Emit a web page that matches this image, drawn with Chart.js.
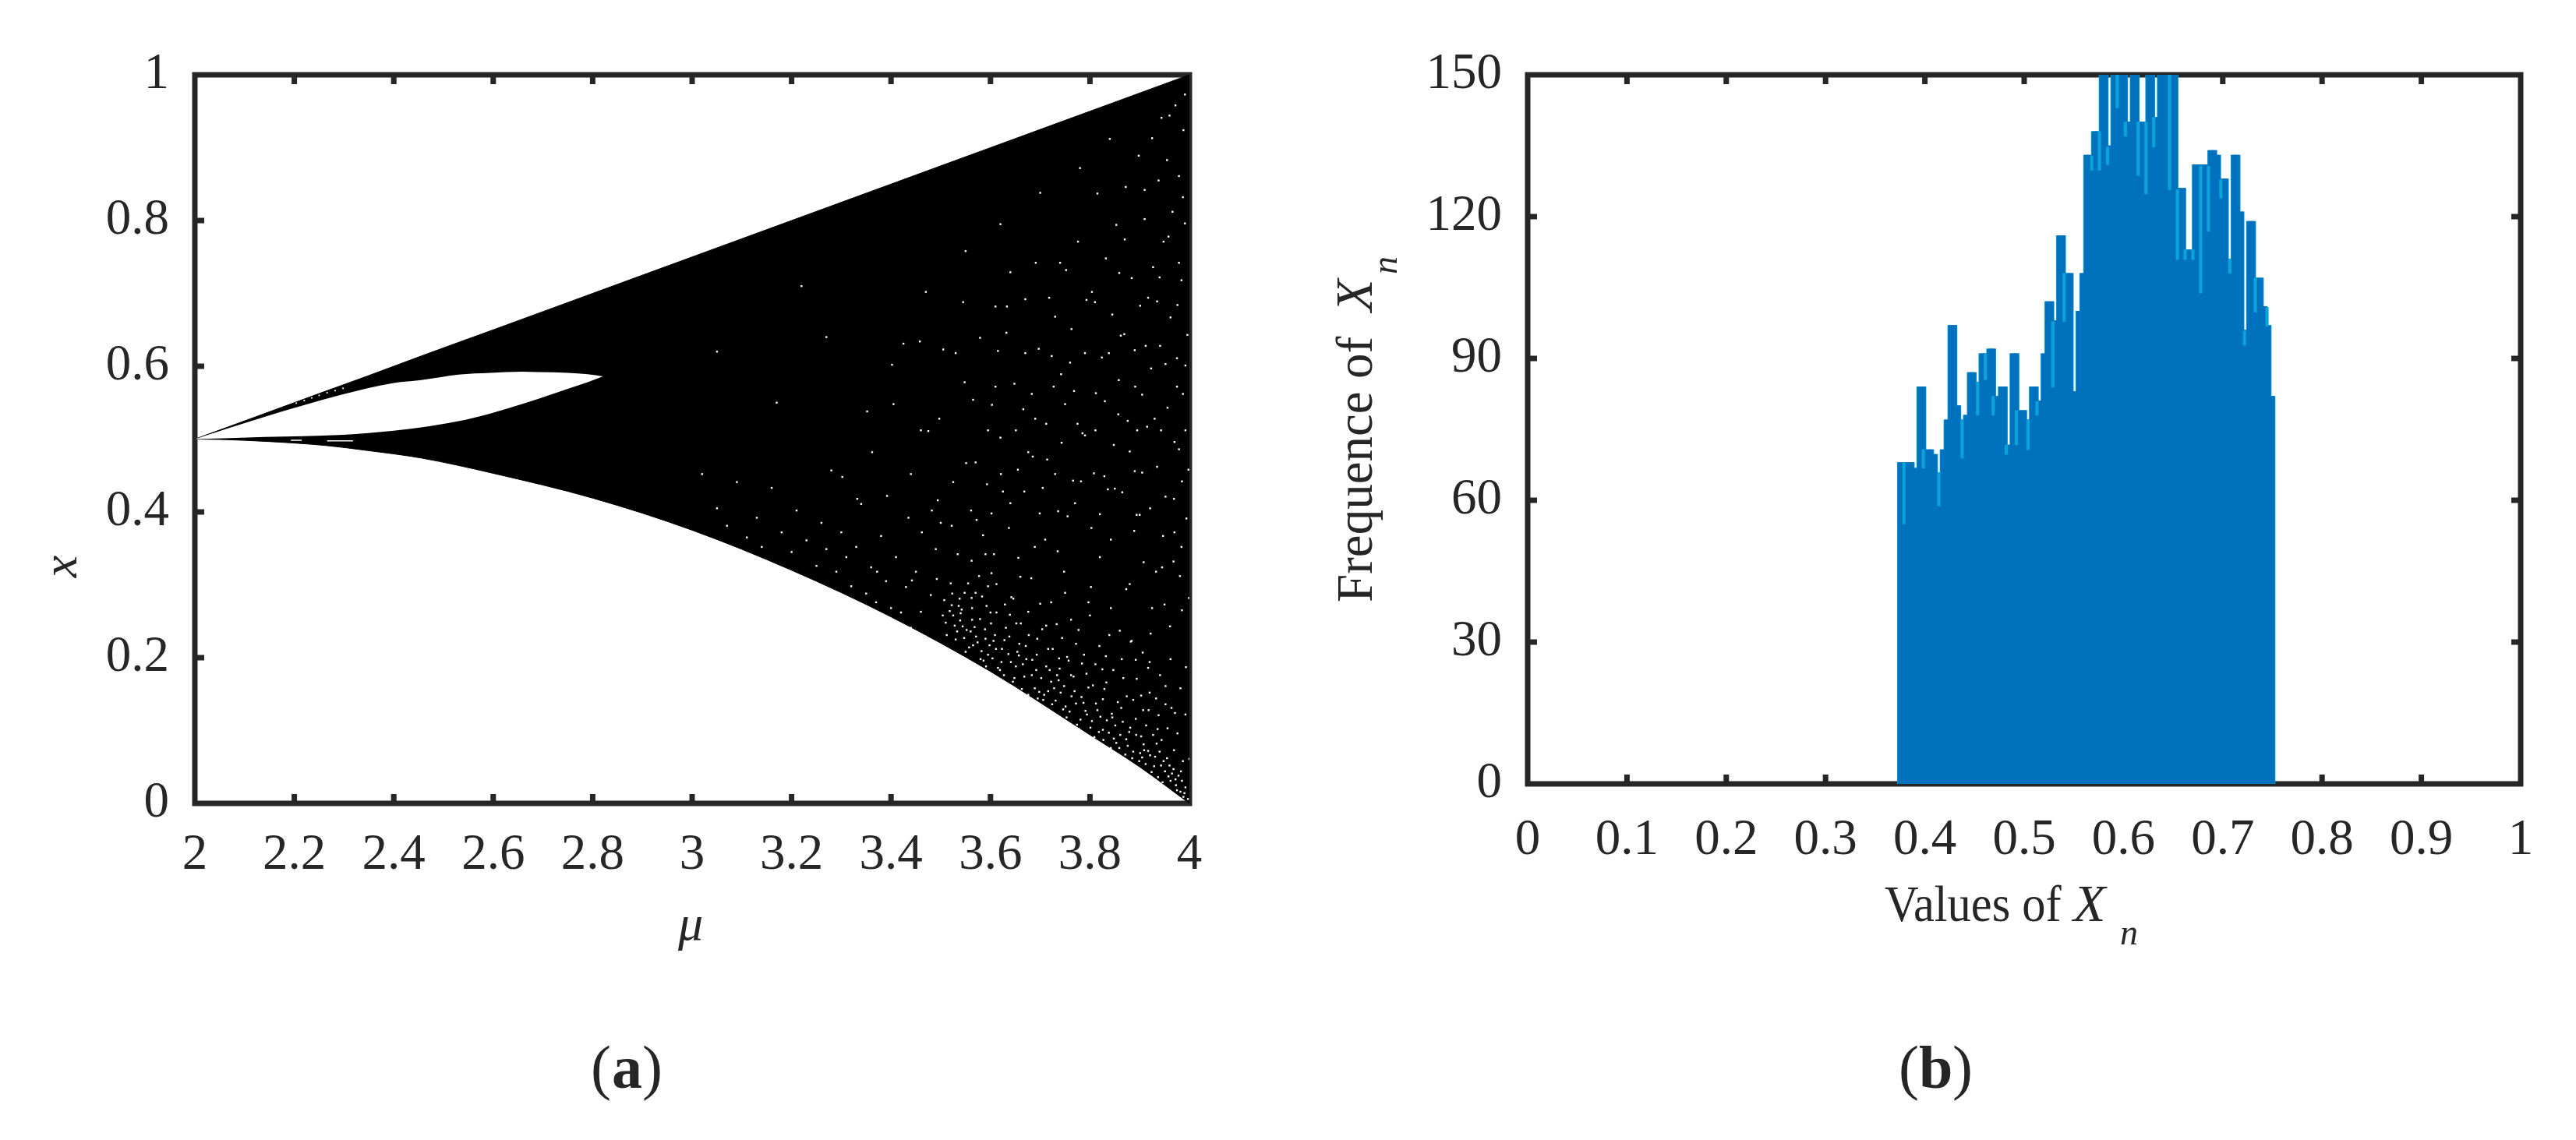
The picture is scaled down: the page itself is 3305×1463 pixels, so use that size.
<!DOCTYPE html>
<html><head><meta charset="utf-8">
<script src="https://cdn.jsdelivr.net/npm/chart.js@4"></script>
<style>
html,body{margin:0;padding:0;background:#fff;width:3305px;height:1463px;overflow:hidden}
canvas{position:absolute;top:0}
#a{left:0}#b{left:1650px}
</style></head><body>
<canvas id="a" width="1650" height="1463"></canvas>
<canvas id="b" width="1655" height="1463"></canvas>
<script>
// ---------- panel (a): bifurcation diagram, outline
const muTicks = [2,2.2,2.4,2.6,2.8,3,3.2,3.4,3.6,3.8,4];
const xTicks = [0,0.2,0.4,0.6,0.8,1];
const muGrid = [2,2.05,2.15,2.266,2.345,2.455,2.6,2.8,3,3.2,3.4,3.6,3.8,3.9,4];
const upperEdge = [0.5,0.5125,0.5375,0.5665,0.586,0.614,0.65,0.7,0.75,0.8,0.85,0.9,0.95,0.975,1];
const lowerEdge = [0.5,0.4995,0.4966,0.491,0.4845,0.474,0.453,0.419,0.375,0.32,0.256,0.181,0.094,0.05,0];
const lensMu = [2,2.14,2.298,2.4,2.455,2.53,2.594,2.658,2.69,2.75,2.79,2.821];
const lensTop = [0.5,0.5305,0.5615,0.577,0.581,0.5886,0.591,0.5925,0.592,0.591,0.589,0.586];
const lensBottom = [0.5,0.503,0.506,0.5116,0.516,0.5245,0.535,0.548,0.555,0.569,0.578,0.586];
const sliverMu = [2.193,2.215,2.24,2.266,2.318];
const sliverX = [0.4985,0.4985,null,0.4975,0.4975];
const bandDots = [[2.204,0.5494],[2.22,0.553],[2.235,0.5565],[2.25,0.56],[2.266,0.5636],[2.282,0.5665],[2.298,0.5697]];
// white specks in the black area: [mu-3 in thousandths, x in thousandths]
const specklesA = [
[20,452],[50,405],[70,381],[90,441],[110,365],[130,392],[140,352],[160,433],[180,372],[200,345],[210,402],[230,361],[250,326],[260,385],[270,349],[280,457],[290,318],[300,372],[310,338],[50,620],
[170,550],[220,710],[270,640],[320,298],[330,352],[340,411],[350,288],[360,324],[370,276],[380,367],[390,305],[400,268],[410,338],[425,631],[458,634],[497,528],[632,646],[970,496],[890,456],[538,281],
[803,378],[420,262],[430,297],[440,241],[450,318],[460,263],[470,229],[480,286],[490,349],[500,217],[510,248],[520,302],[530,225],[540,261],[550,208],[560,236],[570,289],[580,198],[590,226],[600,262],
[440,452],[470,702],[500,385],[530,618],[550,758],[570,468],[590,342],[610,572],[620,795],[640,412],[660,311],[670,692],[690,528],[700,838],[710,362],[730,452],[740,742],[750,289],[760,605],[770,412],
[780,872],[790,505],[800,258],[810,688],[820,338],[830,552],[840,912],[850,432],[860,237],[870,774],[880,301],[890,622],[900,396],[910,842],[920,194],[930,528],[940,722],[950,273],[960,944],[970,372]];
const specklesB = [
[512,231],[648,172],[731,141],[873,88],[557,214],[905,63],[689,158],[794,122],[962,31],[604,199],[838,97],[751,133],[528,244],[917,72],[665,191],[982,16],[774,108],[591,188],[859,76],[708,149],
[943,52],[636,205],[821,119],[547,227],[893,94],[978,38],[722,167],[801,104],[619,183],[951,44],[683,176],[866,112],[568,242],[759,126],[931,64],[642,161],[812,137],[504,258],[887,71],[973,25],
[695,144],[848,89],[582,209],[739,185],[924,43],[657,203],[781,115],[539,251],[908,81],[988,9],[627,176],[844,123],[716,154],[968,47],[574,221],[899,58],[763,147],[937,36],[651,188],[809,91],
[533,236],[881,104],[702,172],[955,62],[598,217],[826,101],[746,129],[992,22],[676,149],[912,54],[563,252],[787,138],[641,194],[871,67],[728,158],[946,29],[609,231],[834,114],[518,264],[903,92],
[692,183],[965,41],[778,102],[586,196],[853,83],[737,169],[921,66],[663,157],[985,31],[815,128],[552,238],[896,49],[706,142],[940,71],[623,212],[842,76],[769,154],[975,18],[645,167],[879,98],
[507,279],[929,51],[684,197],[804,113],[571,229],[958,37],[724,136],[861,94],[615,186],[909,73],[748,161],[990,14],[658,219],[827,87],[542,266],[885,62],[698,153],[948,58],[595,204],[791,127],
[734,176],[972,33],[631,241],[851,107],[523,288],[915,39],[668,174],[783,146],[579,253],[934,82],[711,128],[868,56],[606,223],[997,6],[753,118],[826,143],[654,208],[901,69],[536,271],[960,52],
[687,131],[818,98],[563,268],[927,94],[741,152],[876,79],[622,194],[983,44],[772,137],[845,118],[601,247],[913,107],[671,216],[944,87],[719,183],[892,116],[548,289],[856,139],[797,159],[969,73],
[638,229],[907,128],[757,196],[987,58],[694,226],[833,166],[583,284],[938,121],[725,212],[874,147],[612,262],[956,103],[767,174],[920,152],[661,247],[811,191],[555,302],[894,171],[704,239],[976,96],
[788,204],[847,183],[629,273],[933,144],[744,227],[864,198],[676,263],[1000,61],[819,216],[917,186],[595,298],[952,136],[733,246],[884,223],[646,281],[971,124],[777,238],[906,207],[700,274],[839,231]];
const specklesC = [
[612,301],[925,268],[748,318],[993,187],[656,337],[873,294],[534,342],[961,243],[797,276],[689,352],[908,331],[572,389],[842,362],[736,401],[981,312],[625,428],[894,396],[766,443],[947,367],[676,482],
[829,449],[551,467],[969,418],[712,521],[880,483],[603,547],[935,462],[785,508],[994,391],[648,576],[857,534],[742,589],[915,517],[494,416],[812,563],[979,486],[697,624],[891,572],[579,639],[956,543],
[763,651],[838,618],[633,682],[923,597],[987,562],[718,694],[869,644],[941,628],[804,702],[666,541],[975,611],[548,578],[901,683],[752,732],[832,748],[962,667],[615,621],[884,721],[996,643],[691,742],
[927,736],[776,771],[853,794],[948,771],[984,718],[723,614],[910,802],[815,837],[966,812],[872,846],[938,855],[991,796],[898,889],[955,883],[979,861],[925,913],[988,924],[944,941],[972,958],[991,973],
[460,512],[525,441],[585,368],[620,502],[655,458],[705,433],[735,346],[775,521],[820,397],[865,427],[905,454],[945,324],[985,442],[565,554],[610,682],[670,618],[730,668],[790,618],[845,671],[895,512],
[935,689],[975,572],[405,548],[435,392],[475,511],[505,623],[545,688],[595,512],[640,729],[685,476],[750,548],[808,453],[858,581],[912,628],[952,421],[992,512],[392,422],[362,482],[332,418],[302,448],
[402,602],[352,538],[462,372],[492,308],[522,381],[562,333],[602,398],[642,283],[682,309],[722,276],[762,252],[802,297],[842,268],[882,222],[922,233],[962,198],[372,318],[442,306],[482,402],[522,272],
[562,282],[602,316],[652,247],[712,244],[772,219],[832,202],[892,197],[952,161],[992,122],[985,265],[941,176],[903,148],[867,172],[825,184],[793,178],[754,201],[716,212],[677,231],[639,259],[592,271],
[984,352],[998,458],[976,684],[992,601],[958,778],[987,832],[943,512],[968,332],[999,282],[979,742],[952,603],[921,405],[933,318],[905,561],[917,694],[889,374],[862,642],[876,525],[848,492],[859,728],
[824,612],[836,431],[811,512],[793,691],[782,442],[768,566],[755,394],[743,495],[727,572],[714,472],[699,398],[683,562],[668,428],[651,512],[637,378],[621,452],[607,342],[593,438],[577,312],[561,402],
[982,158],[964,131],[936,102],[918,128],[887,142],[863,131],[829,157],[806,162],[784,192],[762,176],[738,199],[712,188],[693,204],[672,198],[628,224],[611,212],[589,239],[565,217],[544,243],[525,258]];
const speckles = specklesA.concat(specklesB, specklesC).map(p=>({x:3+p[0]/1000,y:p[1]/1000}));
// ---------- panel (b): histogram counts, one per bin, first bin index = 95
const histFirstBin = 95;
const histCounts = [68,68,68,68,66.8,84,84,70.7,70.7,69.7,65.8,70.7,77,97,97,80,77,78,87,87,85,91,91,92,92,82,84,84,71.7,91,91,79,79,77,84,84,81,91,102,102,98,116,116,108,108,83,100,108,133,133,138,138,150,150,135,150,150,150,150,140,150,150,140,140,150,150,141,150,150,150,150,150,126,126,113,113,131,131,131,131,134,134,133,128,128,111,133,133,121,96,119,119,107,107,101,97,82];
const stripBin = [97,102,106,112,116,118,120,123.4,126,129,131.3,135.4,138.3,145.4,147.4,149.5,152,154.1,157.4,159.4,161.4,165.5,167.5,169.5,171.5,173.5,175.5,178.7,181,184.8,187.6,190.6];
const stripTop = [68,70.7,65.8,77,85,91,82,71.7,79,77,80.9,97.8,108,132.8,138,134.7,150,140,140,140,141,150,125.7,113,113,130.7,130.7,127.8,111,95.8,107,100.8];
const stripBottom = [55,66.8,58.8,68.9,78,85.5,78,69.7,71.7,70.7,78,83.9,97.8,129.8,129.8,131,143,137,128.7,124.8,134.7,125.7,110.9,110.9,110.9,103.8,116.9,123.9,108,92.8,99.8,96.8];
const histXTicks = [0,0.1,0.2,0.3,0.4,0.5,0.6,0.7,0.8,0.9,1];
const histYTicks = [0,30,60,90,120,150];

const SERIF = '"Liberation Serif","Times New Roman",serif';
const INK = '#262626';
const zip = (xs, ys) => xs.map((x,i)=>({x, y: ys[i]}));

const frame = {
  id:'frame',
  beforeDatasetsDraw(c){
    const {ctx, chartArea:a, scales:{x,y}} = c;
    ctx.save();
    ctx.strokeStyle = INK; ctx.lineWidth = 7;
    ctx.strokeRect(a.left, a.top, a.right-a.left, a.bottom-a.top);
    ctx.beginPath();
    const L = 12;
    x.ticks.forEach(t=>{
      const p = x.getPixelForValue(t.value);
      if (p<=a.left+1||p>=a.right-1) return;
      ctx.moveTo(p,a.top); ctx.lineTo(p,a.top+L);
      ctx.moveTo(p,a.bottom); ctx.lineTo(p,a.bottom-L);
    });
    y.ticks.forEach(t=>{
      const p = y.getPixelForValue(t.value);
      if (p<=a.top+1||p>=a.bottom-1) return;
      ctx.moveTo(a.left,p); ctx.lineTo(a.left+L,p);
      ctx.moveTo(a.right,p); ctx.lineTo(a.right-L,p);
    });
    ctx.stroke();
    ctx.restore();
  }
};
function labels(c, items){
  const ctx=c.ctx;
  ctx.save();
  ctx.textBaseline='alphabetic'; ctx.textAlign='left';
  items.forEach(it=>{
    ctx.save();
    ctx.translate(it.x,it.y);
    if(it.rot) ctx.rotate(-Math.PI/2);
    if(it.sx) ctx.scale(it.sx,1);
    ctx.font=it.font; ctx.fillStyle=it.color||INK;
    if(it.center) ctx.textAlign='center';
    ctx.fillText(it.t,0,0);
    ctx.restore();
  });
  ctx.restore();
}
function axes(xMin,xMax,xT,yMin,yMax,yT,yW,xPad){
  return {
    x:{type:'linear',offset:false,min:xMin,max:xMax,grid:{display:false,drawTicks:false,offset:false},border:{display:false},
       afterBuildTicks(s){s.ticks=xT.map(v=>({value:v}))},
       afterFit(s){s.height=100},
       ticks:{autoSkip:false,maxRotation:0,padding:xPad,color:INK,font:{family:SERIF,size:65},callback:v=>String(v)}},
    y:{type:'linear',min:yMin,max:yMax,grid:{display:false,drawTicks:false},border:{display:false},
       afterBuildTicks(s){s.ticks=yT.map(v=>({value:v}))},
       afterFit(s){s.width=yW},
       ticks:{autoSkip:false,padding:33,color:INK,font:{family:SERIF,size:65},callback:v=>String(v)}}
  };
}
const base = {responsive:false,animation:false,devicePixelRatio:1,
  plugins:{legend:{display:false},tooltip:{enabled:false}}};
const SMOOTH = 'monotone';

new Chart(document.getElementById('a'),{
  type:'line',
  data:{datasets:[
    {data:zip(muGrid,upperEdge),fill:'+1',backgroundColor:'#000',borderColor:'#000',borderWidth:1,pointRadius:0,order:9,cubicInterpolationMode:SMOOTH},
    {data:zip(muGrid,lowerEdge),fill:false,borderColor:'#000',borderWidth:1,pointRadius:0,order:9,cubicInterpolationMode:SMOOTH},
    {data:zip(lensMu,lensTop),fill:'+1',backgroundColor:'#fff',borderWidth:0,borderColor:'#fff',pointRadius:0,order:8,cubicInterpolationMode:SMOOTH},
    {data:zip(lensMu,lensBottom),fill:false,borderWidth:0,borderColor:'#fff',pointRadius:0,order:8,cubicInterpolationMode:SMOOTH},
    {data:zip(sliverMu,sliverX),fill:false,spanGaps:false,borderWidth:1.5,borderColor:'#fff',pointRadius:0,order:7},
    {data:bandDots.map(p=>({x:p[0],y:p[1]})),showLine:false,pointStyle:'rect',pointRadius:1.3,pointBorderWidth:0,pointBackgroundColor:'#fff',order:6},
    {data:speckles,showLine:false,pointStyle:'rect',pointRadius:1.7,pointBorderWidth:0,pointBackgroundColor:'#fff',order:5}
  ]},
  options:{...base,
    layout:{padding:{left:0,top:96,right:124,bottom:332}},
    scales:axes(2,4,muTicks,0,1,xTicks,250,28)
  },
  plugins:[frame,{id:'text',afterDraw(c){labels(c,[
    {t:'\u03bc',x:886,y:1206,center:1,font:`italic 64px ${SERIF}`},
    {t:'x',x:98,y:727,rot:1,center:1,font:`italic 64px ${SERIF}`},
    {t:'(',x:758,y:1396,font:`78px ${SERIF}`},
    {t:'a',x:785,y:1396,font:`bold 78px ${SERIF}`},
    {t:')',x:824,y:1396,font:`78px ${SERIF}`}
  ])}}]
});

new Chart(document.getElementById('b'),{
  type:'bar',
  data:{datasets:[
    {data:histCounts.map((v,i)=>({x:(i+histFirstBin+1)/256,y:v})),backgroundColor:'#0BA3D9',barThickness:7,grouped:false,order:3},
    {data:histCounts.map((v,i)=>({x:(i+histFirstBin+1)/256,y:v})),backgroundColor:'#0072BD',barThickness:5.5,grouped:false,order:2},
    {data:stripBin.map((b,i)=>({x:b/256,y:[stripBottom[i],stripTop[i]]})),backgroundColor:'#0BA3D9',barThickness:3.5,grouped:false,order:1}
  ]},
  options:{...base,
    layout:{padding:{left:0,top:96,right:71,bottom:357}},
    scales:axes(0,1,histXTicks,0,150,histYTicks,310,34)
  },
  plugins:[frame,{id:'text',afterDraw(c){labels(c,[
    {t:'Values of',x:768,y:1182,sx:0.93,font:`65px ${SERIF}`},
    {t:'X',x:1010,y:1182,font:`italic 68px ${SERIF}`},
    {t:'n',x:1070,y:1212,font:`italic 46px ${SERIF}`},
    {t:'Frequence of',x:110,y:773,rot:1,font:`65px ${SERIF}`},
    {t:'X',x:110,y:400,rot:1,font:`italic 68px ${SERIF}`},
    {t:'n',x:142,y:352,rot:1,font:`italic 46px ${SERIF}`},
    {t:'(',x:786,y:1396,font:`78px ${SERIF}`},
    {t:'b',x:812,y:1396,font:`bold 78px ${SERIF}`},
    {t:')',x:855,y:1396,font:`78px ${SERIF}`}
  ])}}]
});
</script>
</body></html>
